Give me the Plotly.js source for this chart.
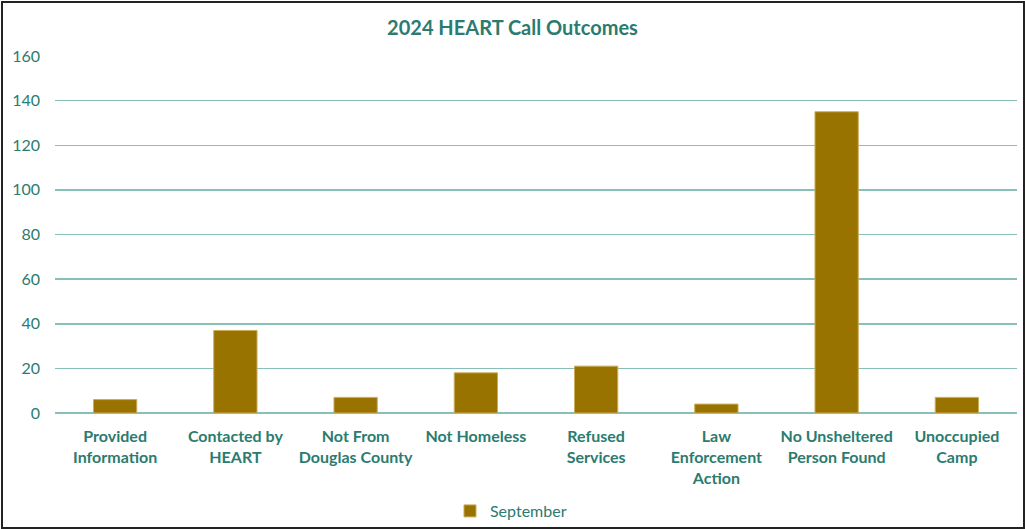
<!DOCTYPE html>
<html>
<head>
<meta charset="utf-8">
<script src="https://cdn.plot.ly/plotly-3.0.1.min.js"></script>
<style>
  html, body { margin: 0; padding: 0; background: #fff; }
  #wrap { position: relative; width: 1025px; height: 529px; }
  #chart { width: 1025px; height: 529px; }
  #frame { position: absolute; left: 1px; top: 1px; width: 1020px; height: 524px; border: 2px solid #222; pointer-events: none; }
</style>
</head>
<body>
<div id="wrap">
  <div id="chart"></div>
  <div id="frame"></div>
</div>
<script>
const categories = [
  "Provided<br>Information",
  "Contacted by<br>HEART",
  "Not From<br>Douglas County",
  "Not Homeless",
  "Refused<br>Services",
  "Law<br>Enforcement<br>Action",
  "No Unsheltered<br>Person Found",
  "Unoccupied<br>Camp"
];
const septemberValues = [6, 37, 7, 18, 21, 4, 135, 7];
const seriesName = "September";
const yTicks = [0, 20, 40, 60, 80, 100, 120, 140, 160];

const teal = "#2b7b70";
const grid = "#88bfb8";
const fam = "Lato, 'Open Sans', sans-serif";

const trace = {
  type: "bar",
  x: categories,
  y: septemberValues,
  name: seriesName,
  marker: { color: "#997300", line: { color: "#c9ad5a", width: 1 } },
  hoverinfo: "x+y"
};

const layout = {
  width: 1025,
  height: 529,
  margin: { l: 55, r: 8, t: 56, b: 116 },
  paper_bgcolor: "#ffffff",
  plot_bgcolor: "#ffffff",
  font: { family: fam, color: teal },
  title: {
    text: "<b>2024 HEART Call Outcomes</b>",
    font: { family: fam, size: 20, color: teal },
    x: 0.5, xanchor: "center",
    y: 0.948, yanchor: "middle"
  },
  bargap: 0.64,
  showlegend: true,
  legend: {
    orientation: "h",
    xref: "paper", x: 0.474, xanchor: "center",
    yref: "container", y: 0.034, yanchor: "middle",
    font: { size: 16, color: teal, family: fam }
  },
  xaxis: {
    type: "category",
    tickfont: { size: 16, color: teal, family: fam, weight: "bold" },
    ticks: "",
    showline: false,
    showgrid: false,
    automargin: false,
    ticklabelstandoff: 12,
    fixedrange: true
  },
  yaxis: {
    range: [0, 160],
    tickvals: yTicks,
    ticktext: yTicks.map(String),
    tickfont: { size: 16, color: teal },
    gridcolor: grid,
    gridwidth: 1.5,
    zeroline: true,
    zerolinecolor: grid,
    zerolinewidth: 1.5,
    showline: false,
    ticks: "",
    automargin: false,
    ticklabelstandoff: 14,
    fixedrange: true
  }
};

Plotly.newPlot("chart", [trace], layout, { displayModeBar: false, staticPlot: true });
</script>
</body>
</html>
